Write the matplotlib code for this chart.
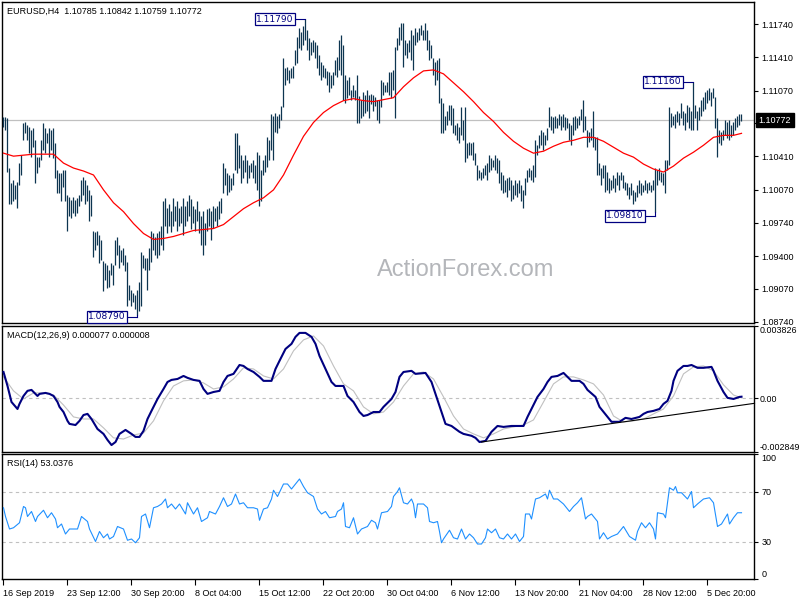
import numpy as np
import matplotlib
matplotlib.use("Agg")
import matplotlib.pyplot as plt

plt.rcParams['font.family'] = ['Liberation Sans', 'DejaVu Sans']

# ---------------- data ----------------
symbol_info = "EURUSD,H4  1.10785 1.10842 1.10759 1.10772"
last_close = 1.10772

highs = [
    1.1080,1.1081,1.1079,1.1029,1.1014,1.1017,1.1012,1.1015,1.1034,1.1042,
    1.1074,1.1075,1.1072,1.1070,1.1067,1.1069,1.1057,1.1040,1.1040,1.1057,
    1.1074,1.1069,1.1064,1.1069,1.1067,1.1069,1.1054,1.1027,1.1024,1.1024,
    1.1027,1.1027,1.1002,1.1000,1.0997,1.1000,1.0997,1.0999,1.1002,1.1017,
    1.1020,1.1017,1.1012,1.1007,1.1002,1.0966,1.0964,1.0966,1.0961,1.0956,
    1.0935,1.0933,1.0931,1.0926,1.0933,1.0931,1.0956,1.0959,1.0951,1.0946,
    1.0948,1.0941,1.0934,1.0911,1.0906,1.0903,1.0901,1.0906,1.0914,1.0944,
    1.0941,1.0938,1.0938,1.0948,1.0966,1.0963,1.0959,1.0963,1.0966,1.0971,
    1.0996,1.0999,1.0989,1.0993,1.0986,1.0999,1.0991,1.0996,1.0989,1.0991,
    1.0999,1.0991,1.0996,1.1002,1.0998,1.0991,1.0988,1.0996,1.0986,1.0981,
    1.0986,1.0974,1.0988,1.0989,1.0986,1.0991,1.0989,1.0991,1.0996,1.0999,
    1.1034,1.1029,1.1024,1.1022,1.1019,1.1024,1.1064,1.1064,1.1052,1.1042,
    1.1037,1.1042,1.1037,1.1032,1.1034,1.1037,1.1032,1.1045,1.1042,1.1027,
    1.1037,1.1042,1.1060,1.1057,1.1084,1.1082,1.1085,1.1082,1.1084,1.1092,
    1.1140,1.1130,1.1131,1.1128,1.1130,1.1132,1.1148,1.1161,1.1170,1.1166,
    1.1172,1.1179,1.1168,1.1160,1.1156,1.1158,1.1156,1.1153,1.1143,1.1136,
    1.1133,1.1130,1.1127,1.1126,1.1123,1.1126,1.1138,1.1141,1.1158,1.1163,
    1.1153,1.1123,1.1118,1.1121,1.1108,1.1113,1.1108,1.1123,1.1102,1.1098,
    1.1106,1.1103,1.1108,1.1103,1.1104,1.1103,1.1101,1.1098,1.1098,1.1118,
    1.1116,1.1113,1.1116,1.1126,1.1126,1.1128,1.1151,1.1160,1.1171,1.1175,
    1.1175,1.1158,1.1155,1.1158,1.1168,1.1163,1.1170,1.1166,1.1170,1.1173,
    1.1168,1.1175,1.1168,1.1158,1.1153,1.1140,1.1136,1.1138,1.1140,1.1100,
    1.1095,1.1082,1.1087,1.1093,1.1093,1.1090,1.1072,1.1074,1.1070,1.1091,
    1.1077,1.1091,1.1054,1.1055,1.1054,1.1055,1.1044,1.1032,1.1027,1.1025,
    1.1029,1.1032,1.1034,1.1042,1.1039,1.1037,1.1042,1.1039,1.1037,1.1025,
    1.1022,1.1017,1.1019,1.1020,1.1017,1.1012,1.1017,1.1014,1.1017,1.1012,
    1.1007,1.1019,1.1027,1.1029,1.1027,1.1032,1.1057,1.1052,1.1062,1.1067,
    1.1065,1.1062,1.1069,1.1091,1.1082,1.1080,1.1082,1.1079,1.1084,1.1082,
    1.1084,1.1080,1.1079,1.1074,1.1072,1.1080,1.1082,1.1079,1.1082,1.1089,
    1.1098,1.1082,1.1067,1.1065,1.1069,1.1087,1.1060,1.1060,1.1034,1.1029,
    1.1032,1.1032,1.1025,1.1019,1.1017,1.1022,1.1019,1.1025,1.1022,1.1025,
    1.1022,1.1015,1.1014,1.1010,1.1014,1.1007,1.1005,1.1012,1.1017,1.1014,
    1.1012,1.1017,1.1014,1.1015,1.1012,1.1017,1.1029,1.1027,1.1029,1.1025,
    1.1024,1.1037,1.1037,1.1091,1.1085,1.1082,1.1084,1.1087,1.1085,1.1095,
    1.1087,1.1085,1.1093,1.1091,1.1087,1.1116,1.1093,1.1087,1.1091,1.1098,
    1.1101,1.1106,1.1108,1.1110,1.1106,1.1110,1.1101,1.1079,1.1067,1.1065,
    1.1067,1.1077,1.1075,1.1077,1.1072,1.1075,1.1079,1.1082,1.1084,1.1084,
]
lows = [
    1.1070,1.1067,1.1025,1.0993,1.0993,1.0996,1.0998,1.0989,1.1012,1.1022,
    1.1057,1.1064,1.1057,1.1044,1.1040,1.1050,1.1014,1.1024,1.1030,1.1037,
    1.1047,1.1044,1.1054,1.1040,1.1047,1.1039,1.1019,1.1004,1.1004,1.0996,
    1.1010,1.0996,1.0966,1.0981,1.0979,1.0984,1.0981,1.0984,1.0991,1.0996,
    1.1002,1.0993,1.0996,1.0976,1.0981,1.0939,1.0946,1.0951,1.0933,1.0936,
    1.0905,1.0916,1.0908,1.0909,1.0921,1.0911,1.0931,1.0941,1.0928,1.0934,
    1.0931,1.0925,1.0890,1.0896,1.0890,1.0894,1.0887,1.0881,1.0885,1.0890,
    1.0928,1.0926,1.0906,1.0926,1.0934,1.0946,1.0941,1.0938,1.0941,1.0951,
    1.0946,1.0971,1.0963,1.0971,1.0964,1.0971,1.0976,1.0966,1.0971,1.0974,
    1.0961,1.0971,1.0976,1.0981,1.0968,1.0974,1.0966,1.0976,1.0963,1.0951,
    1.0941,1.0951,1.0966,1.0971,1.0956,1.0969,1.0976,1.0971,1.0978,1.0984,
    1.1004,1.1012,1.1002,1.1005,1.1007,1.1012,1.1027,1.1024,1.1029,1.1014,
    1.1019,1.1025,1.1014,1.1019,1.1025,1.1019,1.1014,1.1007,1.0991,1.0996,
    1.1022,1.1025,1.1030,1.1037,1.1047,1.1037,1.1065,1.1064,1.1069,1.1077,
    1.1091,1.1113,1.1118,1.1115,1.1120,1.1120,1.1133,1.1135,1.1150,1.1148,
    1.1153,1.1158,1.1148,1.1138,1.1143,1.1146,1.1140,1.1130,1.1123,1.1118,
    1.1121,1.1120,1.1113,1.1106,1.1110,1.1113,1.1123,1.1121,1.1128,1.1123,
    1.1098,1.1095,1.1100,1.1103,1.1098,1.1101,1.1098,1.1074,1.1074,1.1079,
    1.1082,1.1085,1.1087,1.1079,1.1094,1.1087,1.1092,1.1077,1.1074,1.1091,
    1.1103,1.1106,1.1106,1.1103,1.1100,1.1108,1.1079,1.1148,1.1153,1.1158,
    1.1131,1.1143,1.1140,1.1146,1.1138,1.1128,1.1153,1.1156,1.1158,1.1163,
    1.1158,1.1158,1.1148,1.1138,1.1140,1.1123,1.1113,1.1118,1.1095,1.1064,
    1.1064,1.1067,1.1072,1.1077,1.1072,1.1064,1.1062,1.1057,1.1054,1.1062,
    1.1057,1.1035,1.1039,1.1042,1.1042,1.1037,1.1032,1.1017,1.1019,1.1017,
    1.1019,1.1022,1.1017,1.1025,1.1027,1.1030,1.1027,1.1024,1.1014,1.1007,
    1.1004,1.1005,1.1000,1.1007,1.0996,1.0998,1.1002,1.1000,1.1004,1.0996,
    1.0989,1.1002,1.1015,1.1020,1.1017,1.1015,1.1020,1.1042,1.1049,1.1052,
    1.1047,1.1052,1.1057,1.1070,1.1067,1.1064,1.1069,1.1069,1.1072,1.1067,
    1.1070,1.1067,1.1069,1.1057,1.1052,1.1062,1.1067,1.1069,1.1072,1.1077,
    1.1065,1.1067,1.1050,1.1055,1.1057,1.1050,1.1047,1.1022,1.1022,1.1012,
    1.1019,1.1005,1.1007,1.1004,1.1007,1.1009,1.1005,1.1012,1.1007,1.1017,
    1.1009,1.1007,1.1002,1.0998,1.1002,1.0993,1.0996,1.1000,1.1004,1.1002,
    1.1005,1.1007,1.1004,1.1007,1.1005,1.1007,1.0985,1.1012,1.1017,1.1015,
    1.1012,1.1004,1.1027,1.1032,1.1070,1.1072,1.1069,1.1075,1.1072,1.1079,
    1.1072,1.1067,1.1075,1.1069,1.1067,1.1067,1.1079,1.1067,1.1077,1.1082,
    1.1087,1.1089,1.1095,1.1098,1.1092,1.1100,1.1069,1.1040,1.1054,1.1052,
    1.1057,1.1062,1.1059,1.1057,1.1060,1.1062,1.1067,1.1070,1.1072,1.1076,
]

# moving average (red), read every 5 bars + last bar
ma_vals = [
    1.1044,1.1041,1.1042,1.1043,1.1043,1.1043,1.1034,1.1029,1.1026,1.1022,
    1.1007,1.0994,1.0985,1.0973,1.0963,1.0957,1.0958,1.0960,1.0963,1.0966,
    1.0967,1.0968,1.0972,1.0980,1.0988,1.0994,1.0999,1.1007,1.1022,1.1042,
    1.1061,1.1075,1.1085,1.1092,1.1097,1.1099,1.1097,1.1096,1.1098,1.1100,
    1.1111,1.1120,1.1127,1.1128,1.1124,1.1115,1.1106,1.1096,1.1085,1.1076,
    1.1065,1.1056,1.1049,1.1044,1.1046,1.1051,1.1055,1.1057,1.1060,1.1060,
    1.1056,1.1050,1.1044,1.1040,1.1033,1.1028,1.1025,1.1031,1.1039,1.1045,
    1.1052,1.1060,1.1062,1.1062,1.1064,
]

# MACD main line
macd_bars = [
    0,2,4,7,8,10,12,14,17,18, 21,23,25,27,28,30,32,33,36,38,
    40,42,44,47,50,52,54,56,58,61, 64,66,68,70,72,74,77,80,82,84,
    87,90,92,95,98,100,102,105,108,110, 112,115,118,120,122,125,128,130,132,134,
    136,138,141,144,146,148,151,154,156,158, 161,164,166,170,172,175,178,180,182,185,
    188,190,194,196,198,200,204,206,211,214, 216,218,221,224,228,230,234,236,238,241,
    244,247,250,254,260,262,264,267,270,272, 274,277,280,282,284,288,290,292,296,298,
    302,304,308,311,314,318,320,322,325,328, 330,332,334,335,337,340,342,344,347,350,
    354,355,357,360,362,365,368,369,
]
macd_vals = [
    .00139,.00065,-.0002,-.00057,-.0003,.00012,.00039,.00044,.00012,.00023,
    .00028,.00023,.00012,-.0002,-.00046,-.00073,-.0012,-.00136,-.00142,-.0012,
    -.00089,-.00083,-.0011,-.00163,-.00189,-.00221,-.00248,-.00232,-.00189,-.00168,
    -.00189,-.00205,-.00205,-.00173,-.0011,-.00067,-.00004,.00049,.00086,.00097,
    .00102,.00118,.00108,.00097,.00092,.00049,.00023,.00033,.00039,.00086,
    .00118,.00129,.00176,.00171,.00155,.00139,.00113,.00092,.00092,.00092,
    .00155,.00198,.00261,.00288,.00325,.00346,.00346,.00325,.00288,.00224,
    .00155,.00086,.00065,.00065,.00012,-.0002,-.00073,-.00094,-.00089,-.00073,
    -.00073,-.00046,-.00004,.00033,.00113,.00139,.00145,.00129,.00134,.00086,
    .00023,-.0004,-.00136,-.00147,-.00178,-.00189,-.00199,-.0021,-.00232,-.00226,
    -.00178,-.00147,-.00152,-.00147,-.00147,-.00099,-.00057,.00007,.00049,.00086,
    .00113,.00118,.00134,.00113,.00092,.00092,.00076,.00044,.00007,-.00046,
    -.00099,-.00125,-.00125,-.00104,-.0011,-.00099,-.00083,-.00073,-.00067,-.00057,
    -.0003,-.00014,.00039,.00092,.00145,.00171,.00171,.00176,.00161,.00161,
    .00166,.00145,.00092,.00033,.00002,-.00004,.00007,.00008,
]
# MACD signal line, read every 5 bars + last bar
signal_vals = [
    .00113,.00039,-.00004,.00028,.00028,.00017,-.00036,-.00099,-.0011,-.0011,
    -.00157,-.0021,-.00216,-.00195,-.00184,-.0012,-.00014,.00065,.00092,.00097,
    .00081,.00049,.0006,.00102,.00161,.00155,.00118,.00102,.00155,.00251,
    .00309,.0033,.00277,.00171,.00076,.00039,-.00046,-.00083,-.00073,-.0002,
    .00065,.00129,.00139,.00102,.00007,-.00094,-.00163,-.00189,-.0021,-.00189,
    -.00163,-.00152,-.00142,-.00115,-.0002,.00076,.00113,.00113,.00097,.00076,
    .00017,-.00094,-.00126,-.0012,-.0011,-.00083,-.00057,.00012,.00129,.00166,
    .00171,.00145,.00071,.00017,.00002,
]
macd_range = (-0.002849, 0.003826)
trend_bars = [239, 375.5]
trend_vals = [-0.00232, -0.00027]

# RSI(14)
rsi_bars = [
    0,1,3,5,8,10,11,12,14,16, 17,20,22,24,26,27,29,31,33,37,
    39,42,43,46,48,50,52,53,55,57, 60,62,64,66,68,69,71,73,75,77,
    79,81,82,84,86,88,91,92,95,97, 99,102,103,106,108,110,112,114,116,118,
    120,122,125,127,128,130,132,134,135,137, 140,142,144,146,148,150,152,155,157,159,
    161,163,166,167,169,170,171,173,175,177, 179,182,184,186,187,189,192,194,195,197,
    198,200,202,204,205,206,207,210,212,213, 215,217,218,219,220,223,225,227,229,231,
    233,235,237,239,241,242,244,246,248,250, 252,254,256,258,260,261,263,264,266,268,
    271,272,273,275,277,280,283,285,287,289, 291,292,294,297,298,300,302,304,307,310,
    313,316,317,319,321,323,325,326,327,330, 331,333,335,336,337,339,342,344,345,347,
    350,353,355,357,359,362,363,365,367,369,
]
rsi_vals = [
    57,50,40,41,45,58,57,50,54,46, 50,55,49,53,48,41,44,36,40,40,
    50,46,40,30,38,33,36,32,34,42, 40,31,32,29,33,50,52,41,57,58,
    60,64,57,60,56,60,52,61,52,57, 46,49,54,52,58,65,58,60,68,60,
    61,57,57,56,47,56,57,64,71,66, 76,76,72,76,80,74,69,66,56,52,
    54,49,50,54,56,61,42,41,49,36, 40,42,47,45,40,53,54,58,66,70,
    73,61,60,64,60,49,60,60,57,46, 45,46,38,29,32,39,33,32,40,32,
    36,33,28,28,33,40,37,40,33,32, 36,32,36,30,34,52,52,48,64,65,
    68,64,71,64,64,60,54,58,61,65, 48,50,52,46,32,37,32,34,36,42,
    34,31,38,45,41,45,40,32,53,52, 49,73,71,74,69,69,64,70,57,60,
    64,65,61,42,44,52,44,49,53,53,
]

price_ticks = [1.11740, 1.11410, 1.11070, 1.10740, 1.10410,
               1.10070, 1.09740, 1.09400, 1.09070, 1.08740]
price_range = (1.08727, 1.11965)

mark_bars = [151, 345, 326, 67]
mark_prices = [1.11790, 1.11160, 1.09810, 1.08790]
mark_is_low = [False, False, True, True]

date_bars = [0, 32, 64, 96, 128, 160, 192, 224, 256, 288, 320, 352]
date_labels = ["16 Sep 2019", "23 Sep 12:00", "30 Sep 20:00", "8 Oct 04:00",
               "15 Oct 12:00", "22 Oct 20:00", "30 Oct 04:00", "6 Nov 12:00",
               "13 Nov 20:00", "21 Nov 04:00", "28 Nov 12:00", "5 Dec 20:00"]

macd_label = "MACD(12,26,9) 0.000077 0.000008"
rsi_label = "RSI(14) 53.0376"
watermark = "ActionForex.com"

# ---------------- drawing ----------------
W, H = 800, 600
FS = 6.5
BAR = '#0d3550'
NAVY = '#000080'

fig = plt.figure(figsize=(8, 6), dpi=100)
fig.patch.set_facecolor('white')


def rect(x0, y0, x1, y1):
    return [x0 / W, 1 - y1 / H, (x1 - x0) / W, (y1 - y0) / H]


ax1 = fig.add_axes(rect(2, 2, 754, 323))
ax2 = fig.add_axes(rect(2, 326, 754, 452))
ax3 = fig.add_axes(rect(2, 454, 754, 579))

n = len(highs)
idx = np.arange(n)
XL = (-0.75, 375.25)
ma_bars = list(range(0, n, 5)) + [n - 1]
sig_bars = ma_bars

for ax in (ax1, ax2, ax3):
    ax.set_xlim(*XL)
    for s in ax.spines.values():
        s.set_linewidth(1.0)
        s.set_color('black')
    ax.yaxis.tick_right()
    ax.tick_params(axis='y', direction='out', length=3, width=0.8,
                   pad=2.5, labelsize=FS, colors='black')
    ax.set_facecolor('white')

# ---- price panel ----
ax1.set_ylim(*price_range)
ax1.axhline(last_close, color='#c0c0c0', lw=0.9, zorder=1)
ax1.vlines(idx, lows, highs, colors=BAR, lw=0.9, zorder=3)
ax1.plot(ma_bars, ma_vals, color='#ff0000', lw=0.9, zorder=4)
ax1.set_xticks([])
ax1.set_yticks(price_ticks)
# the 1.10740 label sits under the current-price box in the reference
ax1.set_yticklabels(["" if abs(p - 1.1074) < 1e-6 else f"{p:.5f}"
                     for p in price_ticks])
ax1.annotate(f"{last_close:.5f}", xy=(1, last_close),
             xycoords=('axes fraction', 'data'), xytext=(3.4, 0),
             textcoords='offset points', ha='left', va='center',
             color='white', fontsize=FS,
             bbox=dict(boxstyle='square,pad=0.3', fc='black', ec='black'),
             annotation_clip=False, zorder=10)

for b, p, is_low in zip(mark_bars, mark_prices, mark_is_low):
    ax1.plot([b - 5, b], [p, p], color=NAVY, lw=0.8, zorder=5)
    end = lows[b] if is_low else highs[b]
    ax1.plot([b, b], [p, end], color=NAVY, lw=0.8, zorder=5)
    ax1.annotate(f"{p:.5f}", xy=(b - 5, p), xytext=(-1.2, 0),
                 textcoords='offset points', ha='right', va='center',
                 color=NAVY, fontsize=6.6, family='DejaVu Sans',
                 bbox=dict(boxstyle='square,pad=0.15', fc='white',
                           ec=NAVY, lw=0.9), zorder=6)

fig.text(466 / W, 1 - 270 / H, watermark, color='#b4b6ba', fontsize=17,
         family='Liberation Sans', ha='center', va='center')
fig.text(7 / W, 1 - 11 / H, symbol_info, fontsize=FS, va='center')

# ---- MACD panel ----
ax2.set_ylim(*macd_range)
ax2.axhline(0, color='#c0c0c0', lw=0.8, ls=(0, (3, 3)), zorder=1)
ax2.plot(sig_bars, signal_vals, color='#c0c0c0', lw=0.8, zorder=2)
ax2.plot(macd_bars, macd_vals, color=NAVY, lw=1.5, zorder=3)
ax2.plot(trend_bars, trend_vals, color='black', lw=0.8, zorder=4,
         clip_on=False)
ax2.set_xticks([])
ax2.set_yticks([macd_range[1], 0.0, macd_range[0]])
ax2.set_yticklabels([f"{macd_range[1]:.6f}", "0.00", f"{macd_range[0]:.6f}"],
                    fontsize=6.4)
ax2.tick_params(axis='y', pad=1.2)
tl = ax2.get_yticklabels()
tl[0].set_va('top')
tl[2].set_va('bottom')
fig.text(7 / W, 1 - 335 / H, macd_label, fontsize=FS, va='center')

# ---- RSI panel ----
ax3.set_ylim(0, 100)
for lvl in (70, 30):
    ax3.axhline(lvl, color='#c0c0c0', lw=0.8, ls=(0, (3, 3)), zorder=1)
ax3.plot(rsi_bars, rsi_vals, color='#1e90ff', lw=0.8, zorder=3)
ax3.set_yticks([100, 70, 30, 0])
ax3.set_yticklabels(["100", "70", "30", "0"])
tl = ax3.get_yticklabels()
tl[0].set_va('top')
tl[3].set_va('bottom')
ax3.set_xticks(date_bars)
ax3.set_xticklabels(date_labels)
ax3.tick_params(axis='x', direction='out', length=4, width=0.8, pad=3,
                labelsize=FS)
for t in ax3.get_xticklabels():
    t.set_ha('left')
fig.text(7 / W, 1 - 464 / H, rsi_label, fontsize=FS, va='center')

fig.savefig('out.png', dpi=100, facecolor='white')
